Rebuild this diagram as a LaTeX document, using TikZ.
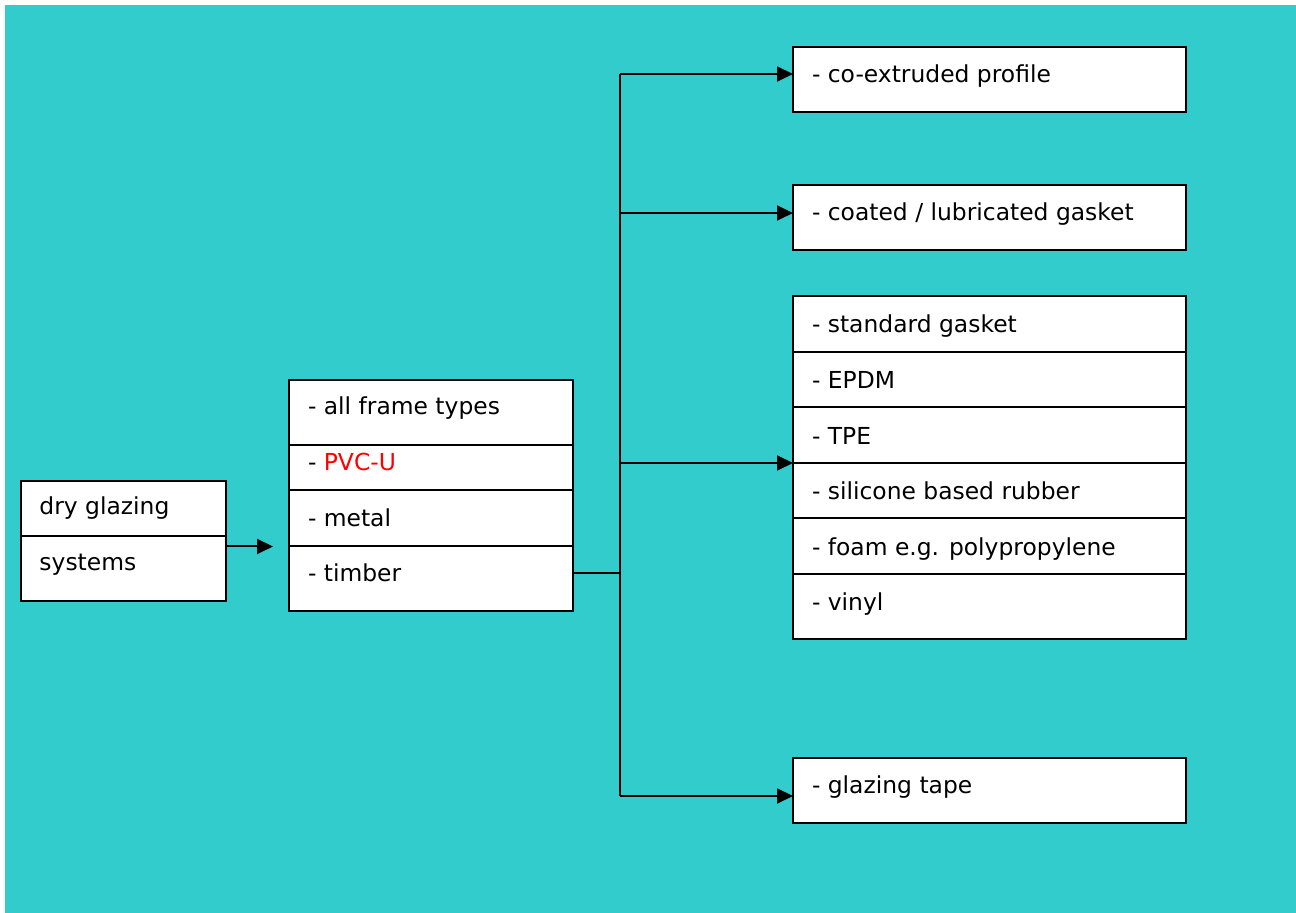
\documentclass[tikz,border=0pt]{standalone}
\usepackage{fontspec}
\setmainfont{DejaVu Sans}
\usetikzlibrary{arrows.meta}
\definecolor{bgcyan}{RGB}{51,204,204}
\definecolor{pvcred}{RGB}{255,0,0}
\begin{document}
\begin{tikzpicture}[x=0.5pt,y=-0.5pt,
  cell/.style={draw=black,fill=white,line width=1pt,rectangle,inner sep=0pt,outer sep=0pt,anchor=north west},
  wide/.style={cell,minimum width=196.5pt},
  mid/.style={cell,minimum width=142pt},
  small/.style={cell,minimum width=102.5pt},
  txt/.style={anchor=base west,inner sep=0pt,outer sep=0pt,font=\fontsize{11.7}{14}\selectfont},
  conn/.style={line width=1pt,draw=black},
  arr/.style={conn,-{Triangle[length=8pt,width=7.5pt]}}]
\useasboundingbox (0,0) rectangle (1296,913);
\fill[bgcyan] (5,5) rectangle (1296,913);
% box A
\node[small,minimum height=27.5pt] (A1) at (21,481) {};
\node[small,minimum height=32.5pt] (A2) at (21,536) {};
\node[txt] (tA1) at (39.5,515) {dry glazing};
\node[txt] (tA2) at (39.5,571) {systems};
% box B
\node[mid,minimum height=32.5pt] (B1) at (289,380) {};
\node[mid,minimum height=22.75pt] (B2) at (289,445) {};
\node[mid,minimum height=27.75pt] (B3) at (289,490.5) {};
\node[mid,minimum height=32.5pt] (B4) at (289,546) {};
\node[txt] (tB1) at (308,415) {- all frame types};
\node[txt] (tB2) at (308,471) {- \textcolor{pvcred}{PVC-U}};
\node[txt] (tB3) at (308,527) {- metal};
\node[txt] (tB4) at (308,582) {- timber};
% box C, D
\node[wide,minimum height=32.5pt] (C) at (793,47) {};
\node[txt] (tC) at (812,83) {- co-extruded profile};
\node[wide,minimum height=32.5pt] (D) at (793,185) {};
\node[txt] (tD) at (812,221) {- coated / lubricated gasket};
% box E
\node[wide,minimum height=27.85pt] (E1) at (793,296) {};
\node[wide,minimum height=27.65pt] (E2) at (793,351.7) {};
\node[wide,minimum height=27.85pt] (E3) at (793,407) {};
\node[wide,minimum height=27.8pt] (E4) at (793,462.7) {};
\node[wide,minimum height=27.85pt] (E5) at (793,518.3) {};
\node[wide,minimum height=32.5pt] (E6) at (793,574) {};
\node[txt] (tE1) at (812,333) {- standard gasket};
\node[txt] (tE2) at (812,389) {- EPDM};
\node[txt] (tE3) at (812,444.5) {- TPE};
\node[txt] (tE4) at (812,500) {- silicone based rubber};
\node[txt] (tE5) at (812,556) {- foam e.g. polypropylene};
\node[txt] (tE6) at (812,611) {- vinyl};
% box F
\node[wide,minimum height=32.5pt] (F) at (793,758) {};
\node[txt] (tF) at (812,794) {- glazing tape};
% connectors
\coordinate (a1) at (226,546.5);
\coordinate (a2) at (273,546.5);
\coordinate (bj) at (620,573);
\coordinate (j1) at (620,74);
\coordinate (j2) at (620,213);
\coordinate (j3) at (620,463);
\coordinate (j4) at (620,796);
\draw[arr] (a1) -- (a2);
\draw[conn] (B4.east |- bj) -- (bj);
\draw[conn] (j1) -- (j4);
\draw[arr] (j1) -- (C.west |- j1);
\draw[arr] (j2) -- (D.west |- j2);
\draw[arr] (j3) -- (E4.west |- j3);
\draw[arr] (j4) -- (F.west |- j4);
\end{tikzpicture}
\end{document}
